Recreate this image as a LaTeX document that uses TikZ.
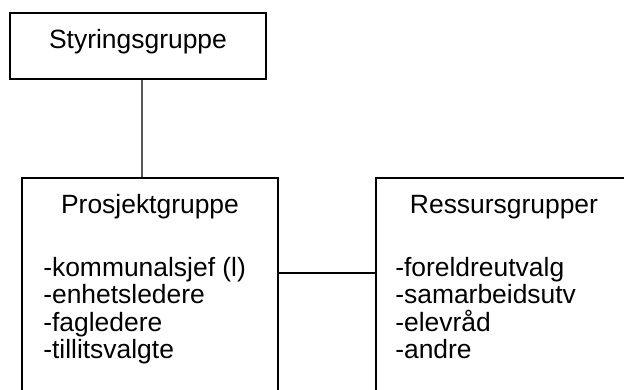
\documentclass[tikz,border=0pt]{standalone}
\usepackage{fontspec}
\setmainfont{Liberation Sans}
\usetikzlibrary{positioning}
\tikzstyle{every picture} = [font=\fontsize{18.8}{22.5}\selectfont]
\tikzset{
  box/.style={draw, line width=0.9pt, minimum width=6.4cm, inner sep=0pt},
  item/.style={inner sep=0pt, anchor=base west},
  title/.style={inner sep=0pt, anchor=base},
}

\begin{document}
\begin{tikzpicture}
            \useasboundingbox (0,0) rectangle (15.6,9.725);
            \clip (0,0) rectangle (15.6,9.725);
            \node (styring) at(3.45, 8.575) [box, minimum height=1.65cm] {};
            \node (prosjekt) at(3.75, 2.1375) [box, minimum height=6.275cm] {};
            \node (ressurs) at(12.6, 2.1375) [box, minimum height=6.275cm] {};

            \node (styring title) at(3.45, 8.5) [title] {Styringsgruppe};
            \node (prosjekt title) at(3.75, 4.4) [title] {Prosjektgruppe};
            \node (ressurs title) at(12.6, 4.4) [title] {Ressursgrupper};

            \node (prosjekt 1) at(1.075, 2.825) [item] {-kommunalsjef (l)};
            \node (prosjekt 2) at([yshift=-0.6875cm]prosjekt 1.base west) [item] {-enhetsledere};
            \node (prosjekt 3) at([yshift=-0.6875cm]prosjekt 2.base west) [item] {-fagledere};
            \node (prosjekt 4) at([yshift=-0.6875cm]prosjekt 3.base west) [item] {-tillitsvalgte};

            \node (ressurs 1) at(9.875, 2.825) [item] {-foreldreutvalg};
            \node (ressurs 2) at([yshift=-0.6875cm]ressurs 1.base west) [item] {-samarbeidsutv};
            \node (ressurs 3) at([yshift=-0.6875cm]ressurs 2.base west) [item] {-elevråd};
            \node (ressurs 4) at([yshift=-0.6875cm]ressurs 3.base west) [item] {-andre};

            \coordinate (link) at(0, 2.9);
            \draw[line width=0.9pt] ([xshift=0.1cm]styring.south) -- ([xshift=-0.2cm]prosjekt.north);
            \draw[line width=0.9pt] (prosjekt.east |- link) -- (ressurs.west |- link);
        \end{tikzpicture}
\end{document}
